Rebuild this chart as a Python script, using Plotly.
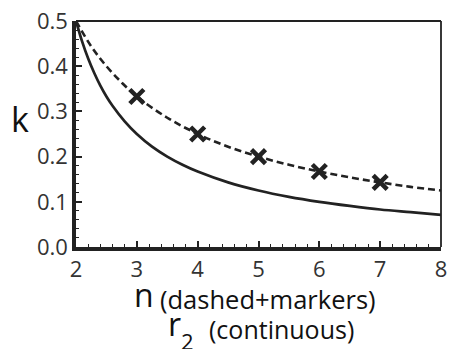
import plotly.graph_objects as go

# Continuous curve (r2)
r2 = [2.0, 2.1, 2.2, 2.3, 2.4, 2.5, 2.6, 2.8, 3.0, 3.25, 3.5, 3.75, 4.0, 4.5, 5.0, 5.5, 6.0, 6.5, 7.0, 7.5, 8.0]
k_r2 = [0.5, 0.455, 0.417, 0.385, 0.357, 0.333, 0.3125, 0.278, 0.25, 0.222, 0.2, 0.182, 0.167, 0.143, 0.125, 0.111, 0.1, 0.091, 0.083, 0.077, 0.071]

# Dashed curve (n)
n_line = [2.0, 2.25, 2.5, 2.75, 3.0, 3.5, 4.0, 4.5, 5.0, 5.5, 6.0, 6.5, 7.0, 7.5, 8.0]
k_n_line = [0.5, 0.444, 0.4, 0.364, 0.333, 0.286, 0.25, 0.222, 0.2, 0.182, 0.167, 0.154, 0.143, 0.133, 0.125]

# Markers
n_marks = [3, 4, 5, 6, 7]
k_marks = [0.333, 0.25, 0.2, 0.167, 0.143]

x_ticks = [2, 3, 4, 5, 6, 7, 8]
y_ticks = [0.0, 0.1, 0.2, 0.3, 0.4, 0.5]
y_ticklabels = ["0.0", "0.1", "0.2", "0.3", "0.4", "0.5"]

FONT = "Open Sans"
C = "#222222"
TXT = "#111111"

# plot area in pixels (for placing the axis-title pieces)
L, R, T, B = 76, 447, 19, 247
def px(x): return (x - L) / (R - L)
def py(y): return (B - y) / (B - T)

fig = go.Figure()
fig.add_trace(go.Scatter(x=r2, y=k_r2, mode="lines", line=dict(color=C, width=2.7, shape="spline"), showlegend=False))
fig.add_trace(go.Scatter(x=n_line, y=k_n_line, mode="lines", line=dict(color=C, width=2.6, dash="7px,4px", shape="spline"), showlegend=False))
fig.add_trace(go.Scatter(x=n_marks, y=k_marks, mode="markers",
                         marker=dict(symbol="x-thin", size=14, line=dict(color=C, width=4.5)), showlegend=False))

fig.update_layout(
    width=452, height=349,
    margin=dict(l=L, r=452 - R, t=T, b=349 - B),
    paper_bgcolor="white", plot_bgcolor="white",
    font=dict(family=FONT, color="#333333"),
    xaxis=dict(range=[2, 8], tickvals=x_ticks, ticks="inside", ticklen=6, tickwidth=1.5, tickcolor=C,
               showgrid=False, zeroline=False, showline=True, linecolor=C, linewidth=3.5,
               ticklabeloverflow="allow",
               tickfont=dict(size=22, family=FONT, color="#333333"),
               minor=dict(dtick=0.2, ticks="inside", ticklen=3, tickcolor=C, tickwidth=1, showgrid=False)),
    yaxis=dict(range=[0, 0.5], tickvals=y_ticks, ticktext=y_ticklabels, ticks="inside", ticklen=6, tickwidth=1.5, tickcolor=C,
               showgrid=False, zeroline=False, showline=True, linecolor=C, linewidth=3.5,
               ticklabeloverflow="allow",
               tickfont=dict(size=22, family=FONT, color="#333333"),
               minor=dict(dtick=0.02, ticks="inside", ticklen=3, tickcolor=C, tickwidth=1, showgrid=False)),
)

# thin top/right frame
fig.add_shape(type="line", xref="paper", yref="paper", x0=0, x1=1, y0=1, y1=1, line=dict(color=C, width=1.8))
fig.add_shape(type="line", xref="paper", yref="paper", x0=1, x1=1, y0=0, y1=1, line=dict(color=C, width=1.8))

def ann(text, x, y, size, xanchor="left"):
    fig.add_annotation(text=text, xref="paper", yref="paper", x=px(x), y=py(y), showarrow=False,
                       font=dict(size=size, family=FONT, color=TXT), xanchor=xanchor, yanchor="middle")

ann("k", 19, 118, 34, xanchor="center")
ann("n", 145, 295, 32, xanchor="center")
ann("(dashed+markers)", 159, 299, 25.5)
ann("r", 167, 324, 32)
ann("2", 181, 342, 22)
ann("(continuous)", 209, 330, 25)

fig.write_html("out.html")
